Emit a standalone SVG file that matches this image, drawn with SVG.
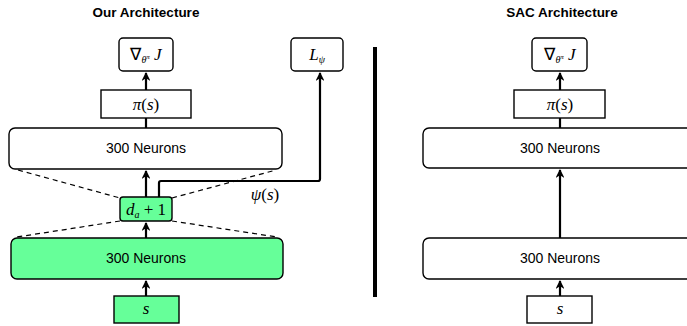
<svg xmlns="http://www.w3.org/2000/svg" width="687" height="326" viewBox="0 0 687 326">
<defs>
<marker id="arr" viewBox="0 0 10 10" refX="9" refY="5" markerWidth="4" markerHeight="4" orient="auto" markerUnits="strokeWidth">
<path d="M0,0 L10,5 L0,10 L3,5 Z" fill="#000"/>
</marker>
<style>
.box{fill:#fff;stroke:#000;stroke-width:1.4}
.g{fill:#66FF99}
.lbl{font-family:"Liberation Sans",Arial,sans-serif;font-size:14px;text-anchor:middle;fill:#000}
.ttl{font-family:"Liberation Sans",Arial,sans-serif;font-size:13.5px;font-weight:bold;text-anchor:middle;fill:#000}
.m{font-family:"Liberation Serif","Times New Roman",serif;font-size:17px;text-anchor:middle;fill:#000}
.i{font-style:italic}
.c{fill:none;stroke:#000;stroke-width:2.2}
.d{fill:none;stroke:#000;stroke-width:1.2;stroke-dasharray:5,4}
</style>
</defs>
<text class="ttl" x="146" y="17">Our Architecture</text>
<text class="ttl" x="562" y="17">SAC Architecture</text>
<line x1="375" y1="47" x2="375" y2="297" stroke="#000" stroke-width="4"/>

<g id="connectors">
<line class="c" x1="146" y1="90" x2="146" y2="73" marker-end="url(#arr)"/>
<line class="c" x1="146" y1="128" x2="146" y2="118"/>
<line class="c" x1="146" y1="197" x2="146" y2="171" marker-end="url(#arr)"/>
<path class="c" d="M159,197 L159,183 Q159,181 161,181 L318,181 Q320,181 320,179 L320,73" marker-end="url(#arr)"/>
<line class="c" x1="146" y1="238" x2="146" y2="223" marker-end="url(#arr)"/>
<line class="c" x1="146" y1="296" x2="146" y2="281" marker-end="url(#arr)"/>
<line class="d" x1="18" y1="170" x2="120" y2="198"/>
<line class="d" x1="172" y1="198" x2="276" y2="170"/>
<line class="d" x1="120" y1="221" x2="17" y2="237"/>
<line class="d" x1="172" y1="221" x2="277" y2="237"/>
<line class="c" x1="560" y1="90" x2="560" y2="73" marker-end="url(#arr)"/>
<line class="c" x1="560" y1="128" x2="560" y2="118"/>
<line class="c" x1="560" y1="238" x2="560" y2="170" marker-end="url(#arr)"/>
<line class="c" x1="560" y1="296" x2="560" y2="281" marker-end="url(#arr)"/>
</g>
<text class="m" x="265" y="200"><tspan class="i">ψ</tspan>(<tspan class="i">s</tspan>)</text>

<g id="grad1">
<rect class="box" x="119" y="38" width="54" height="33" rx="4"/>
<text class="m" x="146" y="60">∇<tspan class="i" font-size="10" dy="3">θ</tspan><tspan class="i" font-size="7" dy="-4">π</tspan><tspan class="i" dy="1"> J</tspan></text>
</g>
<g id="pi1">
<rect class="box" x="101" y="90" width="90" height="28"/>
<text class="m" x="146" y="110"><tspan class="i">π</tspan>(<tspan class="i">s</tspan>)</text>
</g>
<g id="lpsi">
<rect class="box" x="291" y="38" width="52" height="33" rx="4"/>
<text class="m" x="317" y="60"><tspan class="i">L</tspan><tspan class="i" font-size="10" dy="3">ψ</tspan></text>
</g>
<g id="n1">
<rect class="box" x="9" y="128" width="273" height="41" rx="6"/>
<text class="lbl" x="146" y="153">300 Neurons</text>
</g>
<g id="da">
<rect class="box g" x="120" y="197" width="52" height="24" rx="3"/>
<text class="m" x="146" y="215"><tspan class="i">d</tspan><tspan class="i" font-size="10" dy="3">a</tspan><tspan dy="-3"> + 1</tspan></text>
</g>
<g id="n2">
<rect class="box g" x="11" y="238" width="272" height="41" rx="6"/>
<text class="lbl" x="146" y="263">300 Neurons</text>
</g>
<g id="s1">
<rect class="box g" x="114" y="296" width="65" height="27"/>
<text class="m" x="146" y="314"><tspan class="i">s</tspan></text>
</g>

<g id="grad2">
<rect class="box" x="532" y="38" width="55" height="33" rx="4"/>
<text class="m" x="560" y="60">∇<tspan class="i" font-size="10" dy="3">θ</tspan><tspan class="i" font-size="7" dy="-4">π</tspan><tspan class="i" dy="1"> J</tspan></text>
</g>
<g id="pi2">
<rect class="box" x="514" y="90" width="91" height="28"/>
<text class="m" x="560" y="110"><tspan class="i">π</tspan>(<tspan class="i">s</tspan>)</text>
</g>
<g id="n3">
<rect class="box" x="423" y="128" width="274" height="40" rx="6"/>
<text class="lbl" x="560" y="153">300 Neurons</text>
</g>
<g id="n4">
<rect class="box" x="423" y="238" width="274" height="41" rx="6"/>
<text class="lbl" x="560" y="263">300 Neurons</text>
</g>
<g id="s2">
<rect class="box" x="527" y="296" width="65" height="27"/>
<text class="m" x="560" y="314"><tspan class="i">s</tspan></text>
</g>
</svg>
